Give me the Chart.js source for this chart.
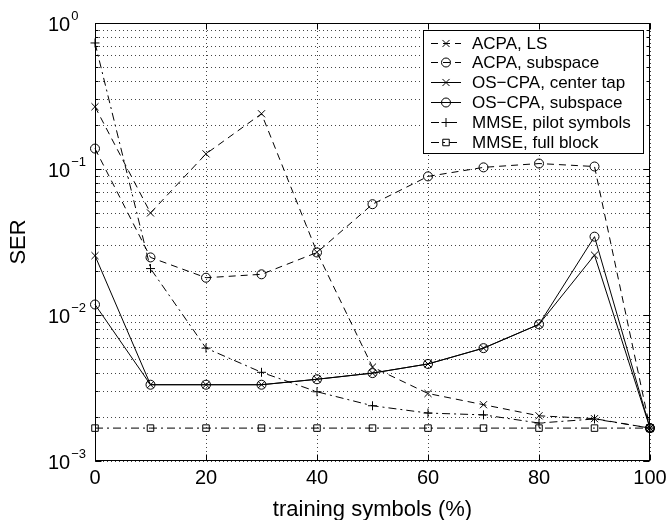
<!DOCTYPE html>
<html>
<head>
<meta charset="utf-8">
<script src="https://cdn.jsdelivr.net/npm/chart.js@4/dist/chart.umd.min.js"></script>
<style>
  body { margin: 0; background: #fff; }
  canvas { display: block; }
</style>
</head>
<body>
<canvas id="serChart" width="670" height="520"></canvas>
<script>
// ── DATA ──────────────────────────────────────────────────────────────────────

const trainingPct = [0, 10, 20, 30, 40, 50, 60, 70, 80, 90, 100];

const acpaLS      = [0.267, 0.050, 0.127, 0.239, 0.0269, 0.0044, 0.0029, 0.00243, 0.00204, 0.00195, 0.00168];
const acpaSub     = [0.138, 0.0248, 0.0180, 0.0190, 0.0268, 0.0574, 0.089, 0.1026, 0.109, 0.104, 0.00168];
const osCenterTap = [0.0255, 0.00333, 0.00333, 0.00333, 0.00363, 0.0040, 0.00462, 0.00593, 0.00863, 0.0257, 0.00168];
const osSubspace  = [0.0118, 0.00333, 0.00333, 0.00333, 0.00363, 0.0040, 0.00462, 0.00593, 0.00863, 0.0344, 0.00168];
const mmsePilot   = [0.73, 0.0208, 0.00593, 0.00405, 0.00298, 0.00239, 0.00213, 0.00207, 0.00182, 0.00194, 0.00168];
const mmseFull    = [0.00168, 0.00168, 0.00168, 0.00168, 0.00168, 0.00168, 0.00168, 0.00168, 0.00168, 0.00168, 0.00168];

const seriesNames = [
  "ACPA, LS",
  "ACPA, subspace",
  "OS\u2212CPA, center tap",
  "OS\u2212CPA, subspace",
  "MMSE, pilot symbols",
  "MMSE, full block"
];

const xTickValues = [0, 20, 40, 60, 80, 100];
const yTickExponents = [0, -1, -2, -3];
const xTitle = "training symbols (%)";
const yTitle = "SER";

// ── STYLE ─────────────────────────────────────────────────────────────────────

const FONT = '"Liberation Sans", Arial, Helvetica, sans-serif';
const DASH = [7, 5];
const DASHDOT = [8, 4, 2, 4];

function points(values) {
  return trainingPct.map((x, i) => ({ x, y: values[i] }));
}

function series(label, values, dash, marker, radius) {
  return {
    label,
    data: points(values),
    borderColor: "#000",
    borderWidth: 1,
    borderDash: dash,
    pointStyle: marker,
    pointRadius: radius,
    pointBorderColor: "#000",
    pointBackgroundColor: "rgba(0,0,0,0)",
    pointBorderWidth: 1,
    fill: false,
    tension: 0,
    clip: false
  };
}

const datasets = [
  series(seriesNames[0], acpaLS, DASH, "crossRot", 5),
  series(seriesNames[1], acpaSub, DASH, "circle", 4.5),
  series(seriesNames[2], osCenterTap, [], "crossRot", 5),
  series(seriesNames[3], osSubspace, [], "circle", 4.5),
  series(seriesNames[4], mmsePilot, DASHDOT, "cross", 4.5),
  series(seriesNames[5], mmseFull, DASHDOT, "rect", 4.6)
];

// ── AXES, GRID, LABELS, LEGEND ────────────────────────────────────────────────

const matlabFrame = {
  id: "matlabFrame",
  beforeDatasetsDraw(chart) {
    const { ctx, chartArea: a, scales } = chart;
    const x = scales.x, y = scales.y;
    ctx.save();
    ctx.strokeStyle = "#444";
    ctx.lineWidth = 1;
    ctx.setLineDash([1, 3]);
    // vertical dotted grid
    xTickValues.forEach(v => {
      const px = Math.round(x.getPixelForValue(v)) + 0.5;
      ctx.beginPath();
      ctx.moveTo(px, a.top);
      ctx.lineTo(px, a.bottom);
      ctx.stroke();
    });
    // horizontal dotted grid, every minor decade step
    for (let e = -3; e < 0; e++) {
      for (let m = 1; m <= 9; m++) {
        const v = m * Math.pow(10, e);
        const py = Math.round(y.getPixelForValue(v)) + 0.5;
        ctx.beginPath();
        ctx.moveTo(a.left, py);
        ctx.lineTo(a.right, py);
        ctx.stroke();
      }
    }
    ctx.restore();
  },
  afterDraw(chart) {
    const { ctx, chartArea: a, scales } = chart;
    const x = scales.x, y = scales.y;
    ctx.save();
    ctx.strokeStyle = "#000";
    ctx.lineWidth = 1;
    ctx.setLineDash([]);

    const L = Math.round(a.left) + 0.5, R = Math.round(a.right) - 0.5;
    const T = Math.round(a.top) + 0.5, B = Math.round(a.bottom) - 0.5;

    // inward ticks
    ctx.beginPath();
    xTickValues.forEach(v => {
      const px = Math.round(x.getPixelForValue(v)) + 0.5;
      ctx.moveTo(px, B); ctx.lineTo(px, B - 6);
      ctx.moveTo(px, T); ctx.lineTo(px, T + 6);
    });
    for (let e = -3; e <= 0; e++) {
      for (let m = 1; m <= 9; m++) {
        if (e === 0 && m > 1) break;
        const py = Math.round(y.getPixelForValue(m * Math.pow(10, e))) + 0.5;
        const len = m === 1 ? 6 : 3;
        ctx.moveTo(L, py); ctx.lineTo(L + len, py);
        ctx.moveTo(R, py); ctx.lineTo(R - len, py);
      }
    }
    ctx.stroke();

    // box
    ctx.strokeRect(L, T, R - L, B - T);

    ctx.fillStyle = "#000";

    // x tick labels
    ctx.font = "20px " + FONT;
    ctx.textAlign = "center";
    ctx.textBaseline = "middle";
    xTickValues.forEach(v => {
      ctx.fillText(String(v), x.getPixelForValue(v), a.bottom + 17);
    });

    // y tick labels 10^e
    yTickExponents.forEach(e => {
      const py = y.getPixelForValue(Math.pow(10, e));
      ctx.font = "20px " + FONT;
      ctx.textAlign = "left";
      ctx.textBaseline = "middle";
      ctx.fillText("10", 48, py + 2);
      const w = ctx.measureText("10").width;
      ctx.font = "13px " + FONT;
      ctx.textBaseline = "top";
      ctx.fillText(e === 0 ? "0" : "\u2212" + Math.abs(e), 48 + w + 1, py - 13);
    });

    // axis titles
    ctx.font = "22px " + FONT;
    ctx.textAlign = "center";
    ctx.textBaseline = "alphabetic";
    ctx.fillText(xTitle, (a.left + a.right) / 2, 516);
    ctx.save();
    ctx.translate(25, (a.top + a.bottom) / 2);
    ctx.rotate(-Math.PI / 2);
    ctx.fillText(yTitle, 0, 0);
    ctx.restore();

    // legend
    const box = { left: 423.5, top: 30.5, width: 220, height: 123 };
    ctx.fillStyle = "#fff";
    ctx.fillRect(box.left, box.top, box.width, box.height);
    ctx.strokeStyle = "#000";
    ctx.strokeRect(box.left, box.top, box.width, box.height);
    ctx.font = "17px " + FONT;
    ctx.textAlign = "left";
    ctx.textBaseline = "middle";
    chart.data.datasets.forEach((ds, i) => {
      const ly = Math.round(42.5 + i * 19.8) + 0.5;
      ctx.strokeStyle = "#000";
      ctx.lineWidth = 1;
      ctx.setLineDash(ds.borderDash);
      ctx.beginPath();
      ctx.moveTo(431, ly);
      ctx.lineTo(461, ly);
      ctx.stroke();
      ctx.setLineDash([]);
      drawMarker(ctx, ds.pointStyle, ds.pointRadius, 446, ly);
      ctx.fillStyle = "#000";
      ctx.fillText(ds.label, 472, ly + 1);
    });
    ctx.restore();
  }
};

function drawMarker(ctx, style, r, cx, cy) {
  ctx.beginPath();
  if (style === "circle") {
    ctx.arc(cx, cy, r, 0, Math.PI * 2);
  } else if (style === "crossRot") {
    const d = r * Math.SQRT1_2;
    ctx.moveTo(cx - d, cy - d); ctx.lineTo(cx + d, cy + d);
    ctx.moveTo(cx - d, cy + d); ctx.lineTo(cx + d, cy - d);
  } else if (style === "cross") {
    ctx.moveTo(cx - r, cy); ctx.lineTo(cx + r, cy);
    ctx.moveTo(cx, cy - r); ctx.lineTo(cx, cy + r);
  } else if (style === "rect") {
    const s = r * Math.SQRT1_2;
    ctx.rect(cx - s, cy - s, 2 * s, 2 * s);
  }
  ctx.stroke();
}

// ── CHART ─────────────────────────────────────────────────────────────────────

new Chart(document.getElementById("serChart"), {
  type: "line",
  data: { datasets },
  options: {
    responsive: false,
    animation: false,
    events: [],
    layout: { padding: { top: 23, right: 20, left: 0, bottom: 0 } },
    plugins: {
      legend: { display: false },
      tooltip: { enabled: false }
    },
    scales: {
      x: {
        type: "linear",
        min: 0,
        max: 100,
        grid: { display: false },
        border: { display: false },
        ticks: { display: false },
        afterFit: scale => { scale.height = 59; }
      },
      y: {
        type: "logarithmic",
        min: 0.001,
        max: 1,
        grid: { display: false },
        border: { display: false },
        ticks: { display: false },
        afterFit: scale => { scale.width = 95; }
      }
    }
  },
  plugins: [matlabFrame]
});
</script>
</body>
</html>
